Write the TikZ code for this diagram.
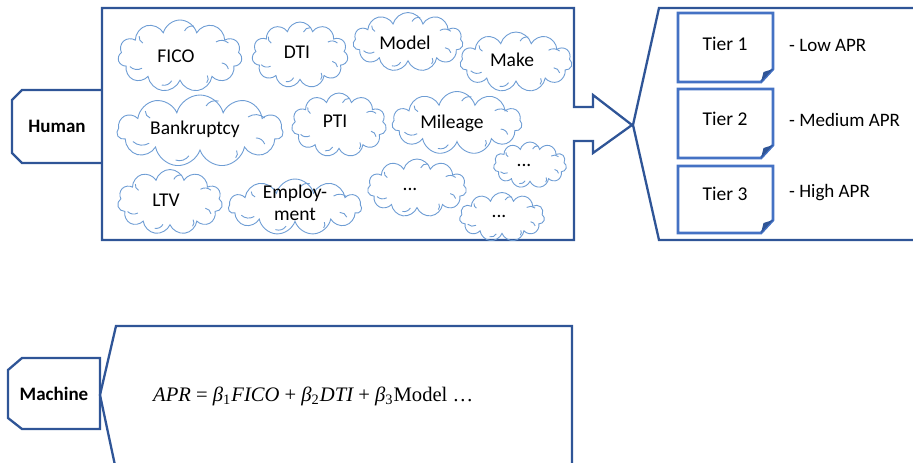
\documentclass[tikz,border=0pt]{standalone}
\usepackage{fontspec}
\setmainfont{Carlito}
\newfontfamily\eqfont{Liberation Serif}
\usetikzlibrary{shapes.symbols}
\definecolor{darkblue}{HTML}{2F5597}
\definecolor{tierblue}{HTML}{4472C4}
\definecolor{cloudblue}{HTML}{6E9DD4}
\tikzset{
  panel/.style={draw=darkblue,line width=2.3pt,line join=miter},
  cloudnode/.style={cloud,cloud puffs=11,cloud ignores aspect,draw=cloudblue,line width=0.9pt,
    inner sep=0pt,align=center},
  hookline/.style={draw=cloudblue,line width=0.9pt},
  cloudtext/.style={font=\fontsize{19.5}{22}\selectfont,align=center},
  tierbox/.style={draw=tierblue,line width=2.8pt,line join=miter},
  tiertext/.style={font=\fontsize{19.5}{20}\selectfont},
  aprtext/.style={anchor=west,inner sep=0pt,font=\fontsize{19}{20}\selectfont},
  sidelabel/.style={font=\bfseries\fontsize{19}{20}\selectfont}
}
\newcommand{\tierrect}[3]{%
  \coordinate (#1tl) at (678,#2);
  \coordinate (#1br) at (773,#3);
  \draw[tierbox] (678,#2) -- (773,#2) -- (773,#3-13) -- (761,#3) -- (678,#3) -- cycle;
  \fill[darkblue] (773,#3-13) -- (761,#3) -- (763.5,#3-10) -- cycle;
}
% small inner hooks of an office-style cloud: centre x, centre y, width, height
\newcommand{\cloudhooks}[4]{%
  \foreach \ang in {200,250,300,335,25,75,140}{%
    \draw[hookline] ({#1+0.43*#3*cos(\ang)},{#2-0.43*#4*sin(\ang)})
      to[bend right=35] ({#1+0.35*#3*cos(\ang+9)},{#2-0.35*#4*sin(\ang+9)});
  }%
}
\begin{document}
\begin{tikzpicture}[x=1pt,y=-1pt]
\useasboundingbox (0,0) rectangle (913,463);
% Human label box
\draw[panel] (102,90) -- (22,90) -- (12,100) -- (12,153) -- (22,163) -- (102,163);
\node[sidelabel] (human) at (57,126) {Human};
% Big human panel with arrow
\draw[panel] (102,8) -- (574,8) -- (574,107) -- (593,107) -- (593,95) -- (632,125)
  -- (593,153) -- (593,141) -- (574,141) -- (574,240) -- (102,240) -- cycle;
% Clouds
\node[cloudnode,minimum width=124pt,minimum height=72pt] (c1) at (180,56) {};
\cloudhooks{180}{56}{124}{72}
\node[cloudtext] (t1) at (176,56) {FICO};
\node[cloudnode,minimum width=96pt,minimum height=66pt] (c2) at (300,55) {};
\cloudhooks{300}{55}{96}{66}
\node[cloudtext] (t2) at (297,52) {DTI};
\node[cloudnode,minimum width=110pt,minimum height=59pt] (c3) at (408,42) {};
\cloudhooks{408}{42}{110}{59}
\node[cloudtext] (t3) at (405,43) {Model};
\node[cloudnode,minimum width=112pt,minimum height=60pt] (c4) at (516,62) {};
\cloudhooks{516}{62}{112}{60}
\node[cloudtext] (t4) at (512,60) {Make};
\node[cloudnode,minimum width=166pt,minimum height=72pt] (c5) at (200,131) {};
\cloudhooks{200}{131}{166}{72}
\node[cloudtext] (t5) at (195,129) {Bankruptcy};
\node[cloudnode,minimum width=95pt,minimum height=64pt] (c6) at (339,125) {};
\cloudhooks{339}{125}{95}{64}
\node[cloudtext] (t6) at (335,121) {PTI};
\node[cloudnode,minimum width=130pt,minimum height=63pt] (c7) at (457,123) {};
\cloudhooks{457}{123}{130}{63}
\node[cloudtext] (t7) at (452,123) {Mileage};
\node[cloudnode,minimum width=73pt,minimum height=46pt] (c8) at (530,165) {};
\cloudhooks{530}{165}{73}{46}
\node[cloudtext] (t8) at (524,165) {...};
\node[cloudnode,minimum width=105pt,minimum height=65pt] (c9) at (170,202) {};
\cloudhooks{170}{202}{105}{65}
\node[cloudtext] (t9) at (166,200) {LTV};
\node[cloudnode,minimum width=133pt,minimum height=56pt] (c10) at (295,207) {};
\cloudhooks{295}{207}{133}{56}
\node[cloudtext] (t10) at (295,203) {Employ-\\ment};
\node[cloudnode,minimum width=99pt,minimum height=58pt] (c11) at (417,188) {};
\cloudhooks{417}{188}{99}{58}
\node[cloudtext] (t11) at (410,189) {...};
\node[cloudnode,minimum width=85pt,minimum height=49pt] (c12) at (502,217) {};
\cloudhooks{502}{217}{85}{49}
\node[cloudtext] (t12) at (499,216) {...};
% Right tier panel
\draw[panel] (913,8) -- (659,8) -- (633,125) -- (659,240) -- (913,240);
\tierrect{ta}{13}{82}
\tierrect{tb}{89}{158}
\tierrect{tc}{166}{233}
\node[tiertext] (tier1) at (725,44) {Tier 1};
\node[tiertext] (tier2) at (725,119) {Tier 2};
\node[tiertext] (tier3) at (725,194) {Tier 3};
\node[aprtext] (apr1) at (789,45) {- Low APR};
\node[aprtext] (apr2) at (789,120) {- Medium APR};
\node[aprtext] (apr3) at (789,193) {- High APR};
% Machine
\draw[panel] (100,358) -- (22,358) -- (8,370) -- (8,418) -- (22,429) -- (100,429) -- cycle;
\node[sidelabel] (machine) at (54,394) {Machine};
\draw[panel] (116,470) -- (100,395) -- (116,326) -- (572,326) -- (572,470);
\node[anchor=west,inner sep=0pt] (eq) at (153,396)
  {\resizebox{320pt}{!}{\eqfont\itshape APR \upshape= \itshape β\upshape\textsubscript{1}\itshape FICO \upshape+ \itshape β\upshape\textsubscript{2}\itshape DTI \upshape+ \itshape β\upshape\textsubscript{3}Model …}};
\end{tikzpicture}
\end{document}
